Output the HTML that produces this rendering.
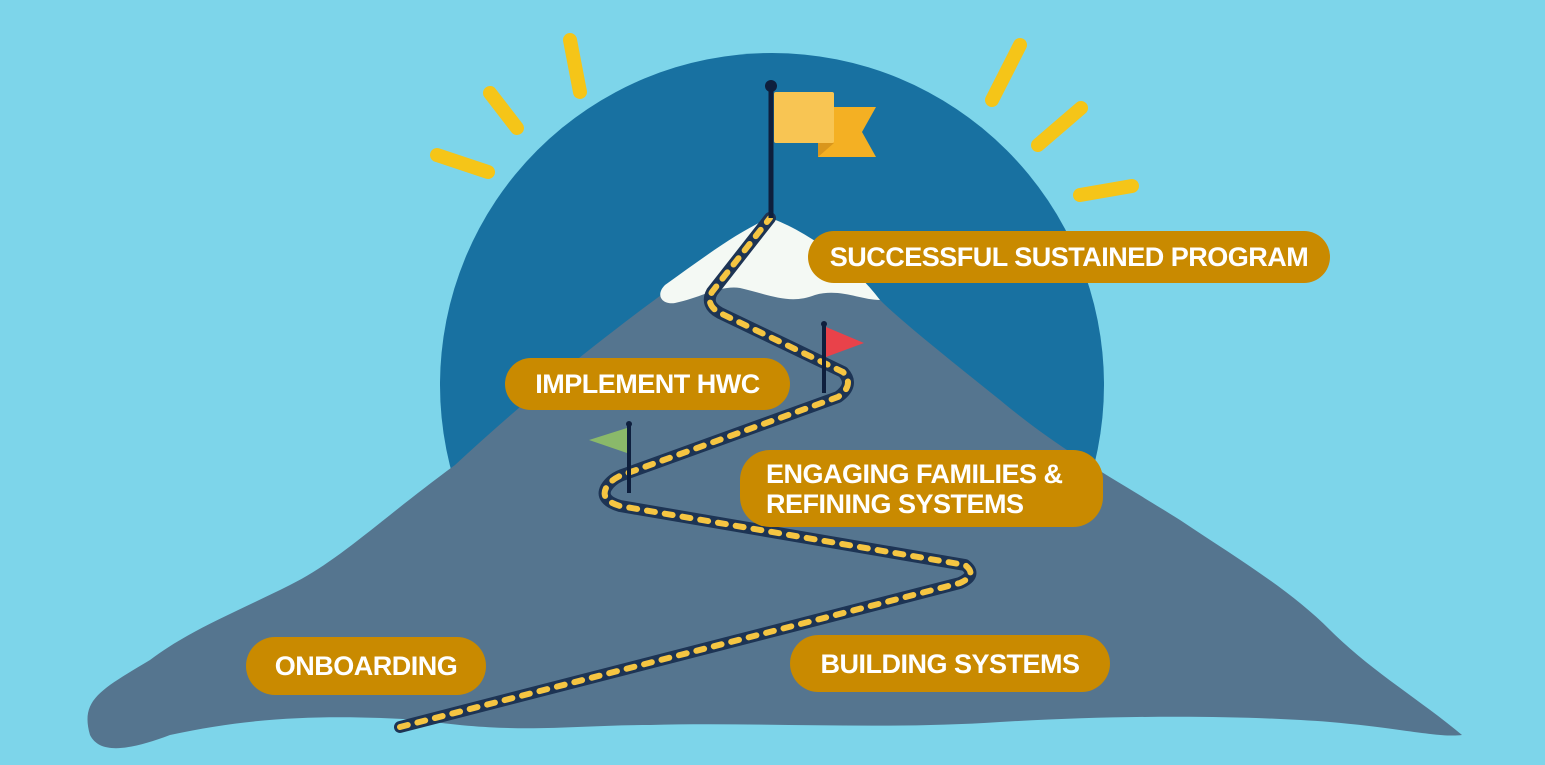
<!DOCTYPE html>
<html><head><style>
body{margin:0;width:1545px;height:765px;overflow:hidden;background:#7dd5ea;}
svg{position:absolute;left:0;top:0}
.l{position:absolute;background:#c98a00;color:#fff;font-family:"Liberation Sans",sans-serif;font-weight:bold;font-size:27px;border-radius:30px;display:flex;align-items:center;justify-content:center;letter-spacing:-0.5px;line-height:30px;white-space:nowrap}
</style></head><body>
<svg width="1545" height="765">
<circle cx="772" cy="385" r="332" fill="#1871a1"/>
<g stroke="#f5c518" stroke-width="14" stroke-linecap="round">
<line x1="437" y1="155" x2="488" y2="172"/><line x1="490" y1="93" x2="517" y2="128"/><line x1="570" y1="40" x2="580" y2="92"/>
<line x1="992" y1="100" x2="1020" y2="45"/><line x1="1038" y1="145" x2="1081" y2="108"/><line x1="1080" y1="195" x2="1132" y2="186"/>
</g>
<path d="M770,218 C740,240 600,330 455,465 C380,520 340,560 290,585 C230,615 190,630 150,660 C100,690 80,700 90,735 C100,755 130,750 170,735 C260,715 340,715 420,720 C520,735 570,725 650,725 C760,722 880,730 1000,722 C1120,715 1240,715 1330,722 C1400,728 1440,738 1462,735 C1420,700 1370,670 1330,630 C1290,590 1240,560 1180,520 C1100,470 1060,450 1000,400 C950,360 900,320 880,300 C840,260 800,230 770,218 Z" fill="#55758f"/>
<path d="M770,218 C740,230 700,260 665,285 C655,295 662,305 675,303 C700,298 720,285 740,288 C770,295 790,305 815,295 C840,288 860,300 880,300 C850,260 800,228 770,218 Z" fill="#f4f9f4"/>
<path d="M400,727 L960,583 Q978,575 965,565 L620,506 Q600,500 606,488 Q612,478 625,474 L838,397 Q855,385 843,372 L720,313 Q705,305 712,292 L770,218" fill="none" stroke="#1d3454" stroke-width="12" stroke-linecap="round" stroke-linejoin="round"/>
<path d="M400,727 L960,583 Q978,575 965,565 L620,506 Q600,500 606,488 Q612,478 625,474 L838,397 Q855,385 843,372 L720,313 Q705,305 712,292 L770,218" fill="none" stroke="#f5c542" stroke-width="6" stroke-dasharray="8,10" stroke-linecap="round"/>
<line x1="771" y1="86" x2="771" y2="218" stroke="#0e1f3d" stroke-width="5"/>
<circle cx="771" cy="86" r="6" fill="#0e1f3d"/>
<path d="M818,107 L876,107 L862,132 L876,157 L818,157 Z" fill="#f4b023"/>
<path d="M818,143 L834,143 L818,157 Z" fill="#d9961c"/>
<rect x="774" y="92" width="60" height="51" rx="2" fill="#f8c553"/>
<line x1="824" y1="324" x2="824" y2="393" stroke="#0e1f3d" stroke-width="4"/><circle cx="824" cy="324" r="3" fill="#0e1f3d"/>
<path d="M826,327 L864,343 L826,357 Z" fill="#e9424a"/>
<line x1="629" y1="424" x2="629" y2="493" stroke="#0e1f3d" stroke-width="4"/><circle cx="629" cy="424" r="3" fill="#0e1f3d"/>
<path d="M627,428 L589,440 L627,453 Z" fill="#8ab96a"/>
</svg>
<div class="l" style="left:246px;top:637px;width:240px;height:58px">ONBOARDING</div>
<div class="l" style="left:790px;top:635px;width:320px;height:57px">BUILDING SYSTEMS</div>
<div class="l" style="left:740px;top:450px;width:363px;height:77px;justify-content:flex-start;padding-left:26px;box-sizing:border-box;white-space:normal">ENGAGING FAMILIES &amp;<br>REFINING SYSTEMS</div>
<div class="l" style="left:505px;top:358px;width:285px;height:52px">IMPLEMENT HWC</div>
<div class="l" style="left:808px;top:231px;width:522px;height:52px">SUCCESSFUL SUSTAINED PROGRAM</div>
</body></html>
